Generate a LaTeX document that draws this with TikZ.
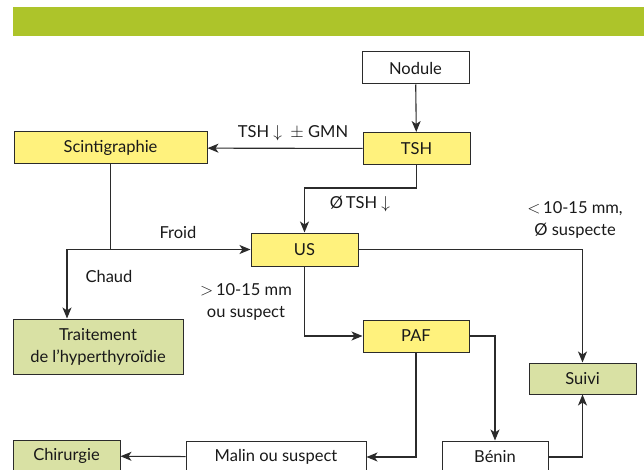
\documentclass[tikz,border=0pt]{standalone}
\usepackage{fontspec}
\setmainfont{Lato}
\usepackage{xcolor}
\usetikzlibrary{positioning, arrows.meta, calc}

\definecolor{barGreen}{HTML}{ADC42A}
\definecolor{stepYellow}{HTML}{FFF27D}
\definecolor{endGreen}{HTML}{D9E1A4}
\definecolor{lineGray}{HTML}{2B2B2B}

\begin{document}
\begin{tikzpicture}[
  x=1pt, y=-1pt,
  >={Stealth[length=11pt, width=9pt, inset=3pt]},
  every node/.style={font=\fontsize{16.5}{22}\selectfont, text=black!90},
  box/.style={draw=lineGray, line width=1pt, minimum height=32pt, inner sep=0pt, align=center},
  test/.style={box, fill=stepYellow},
  outcome/.style={box, fill=endGreen},
  plain/.style={box, fill=white},
  link/.style={draw=lineGray, line width=1.1pt}
]
\useasboundingbox (0,0) rectangle (644,470);
\clip (0,0) rectangle (644,470);

% Title bar
\fill[barGreen] (13,7) rectangle (644,36);

% Boxes
\node[plain, minimum width=107pt] (nodule) at (415.5,68) {Nodule};
\node[test, minimum width=107pt] (tsh) at (416.5,148.5) {TSH};
\node[test, minimum width=193pt] (scinti) at (110.5,148) {Scintigraphie};
\node[test, minimum width=107pt, minimum height=33pt] (us) at (304.5,249.5) {US};
\node[test, minimum width=106pt] (paf) at (416,336) {PAF};
\node[outcome, minimum width=107pt, minimum height=31pt] (suivi) at (582.5,378.5) {Suivi};
\node[outcome, minimum width=170pt, minimum height=55pt] (trait) at (98,346.5)
  {Traitement\\de l'hyperthyroïdie};
\node[outcome, minimum width=107pt] (chir) at (66.5,456) {Chirurgie};
\node[plain, minimum width=180pt] (malin) at (276,457) {Malin ou suspect};
\node[plain, minimum width=106pt] (benin) at (495,457) {Bénin};

% Labels
\node (lblGmn) at (293,133) {TSH $\downarrow$\ \ $\pm$ GMN};
\node (lblNoTsh) at (360,204) {Ø\,TSH $\downarrow$};
\node (lblFroid) at (178,232) {Froid};
\node (lblChaud) at (109,276) {Chaud};
\node[align=center] (lblBig) at (246,302) {$>$\,10-15 mm\\ou suspect};
\node[align=center] (lblSmall) at (575,219.5) {$<$\,10-15 mm,\\Ø suspecte};

% Connectors
\draw[link, ->] (nodule) -- (tsh);
\draw[link, ->] (tsh) -- (scinti);
\draw[link, ->] (tsh.south) -- ++(0,23) -| (us.north);
\coordinate (split) at (scinti.south |- us.west);
\draw[link] (scinti.south) -- (split);
\draw[link, ->] (split) -- (us.west);
\draw[link, ->] (split) -| ([xshift=-31pt]trait.north);
\draw[link, ->] (us.east) -| (suivi.north);
\draw[link, ->] (us.south) |- (paf.west);
\draw[link, ->] (paf.east) -| (benin.north);
\draw[link, ->] (paf.south) |- (malin.east);
\draw[link, ->] (malin) -- (chir);
\draw[link, ->] (benin.east) -| (suivi.south);

\end{tikzpicture}
\end{document}
